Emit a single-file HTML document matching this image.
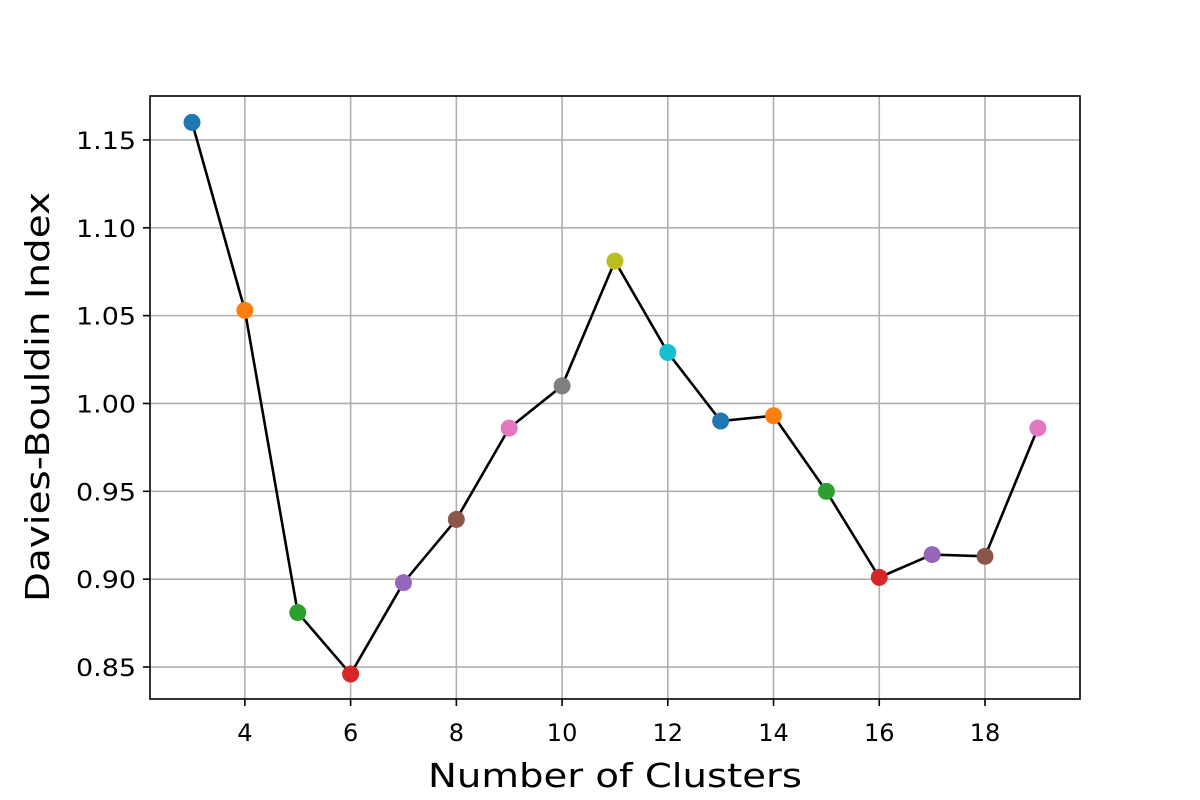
<!DOCTYPE html>
<html><head><meta charset="utf-8"><style>
body{margin:0;background:#fff}
svg{display:block;font-family:"DejaVu Sans","Liberation Sans",sans-serif}
</style></head><body>
<svg id="chart" width="1200" height="800">
<g id="grid"></g>
<g id="series"></g>
<rect x="150" y="96" width="930" height="603" fill="none" stroke="#000" stroke-width="1.6"/>
<g id="ticks"></g>
<text x="615" y="787" text-anchor="middle" font-size="33" textLength="374" lengthAdjust="spacingAndGlyphs">Number of Clusters</text>
<text transform="translate(49,397) rotate(-90)" text-anchor="middle" font-size="33" textLength="410" lengthAdjust="spacingAndGlyphs">Davies-Bouldin Index</text>
</svg>
<script>
const clusters=[3,4,5,6,7,8,9,10,11,12,13,14,15,16,17,18,19];
const dbIndex=[1.160,1.053,0.881,0.846,0.898,0.934,0.986,1.010,1.081,1.029,0.990,0.993,0.950,0.901,0.914,0.913,0.986];
const xTicks=[4,6,8,10,12,14,16,18];
const yTicks=[0.85,0.90,0.95,1.00,1.05,1.10,1.15];
const palette=["#1f77b4","#ff7f0e","#2ca02c","#d62728","#9467bd","#8c564b","#e377c2","#7f7f7f","#bcbd22","#17becf"];
const L=150,R=1080,T=96,B=699,xMin=2.2054,xMax=19.797,yMin=0.8318,yMax=1.175;
const xs=v=>L+(v-xMin)/(xMax-xMin)*(R-L);
const ys=v=>B-(v-yMin)/(yMax-yMin)*(B-T);
const NS="http://www.w3.org/2000/svg";
const mk=(t,a,p)=>{const e=document.createElementNS(NS,t);for(const k in a)e.setAttribute(k,a[k]);p.appendChild(e);return e;};
const grid=document.getElementById('grid'),ticks=document.getElementById('ticks'),series=document.getElementById('series');
xTicks.forEach(v=>{const x=xs(v);
const g=mk('line',{x1:x,x2:x,y1:T,y2:B,stroke:'#b0b0b0','stroke-width':1.6},grid);


const t=mk('line',{x1:x,x2:x,y1:B,y2:B+7,stroke:'#000','stroke-width':1.6},ticks);


const l=mk('text',{x:x,y:741,'text-anchor':'middle','font-size':24},ticks);l.textContent=v;


});
yTicks.forEach(v=>{const y=ys(v);
const g=mk('line',{x1:L,x2:R,y1:y,y2:y,stroke:'#b0b0b0','stroke-width':1.6},grid);


const t=mk('line',{x1:L-7,x2:L,y1:y,y2:y,stroke:'#000','stroke-width':1.6},ticks);


const l=mk('text',{x:L-14,y:y+9,'text-anchor':'end','font-size':24,textLength:60,lengthAdjust:'spacingAndGlyphs'},ticks);l.textContent=v.toFixed(2);


});
const line=mk('polyline',{points:clusters.map((c,i)=>xs(c)+','+ys(dbIndex[i])).join(' '),fill:'none',stroke:'#000','stroke-width':2.6},series);


clusters.forEach((c,i)=>{
const p=mk('circle',{cx:xs(c),cy:ys(dbIndex[i]),r:8.5,fill:palette[i%10]},series);


});
</script>
</body></html>
